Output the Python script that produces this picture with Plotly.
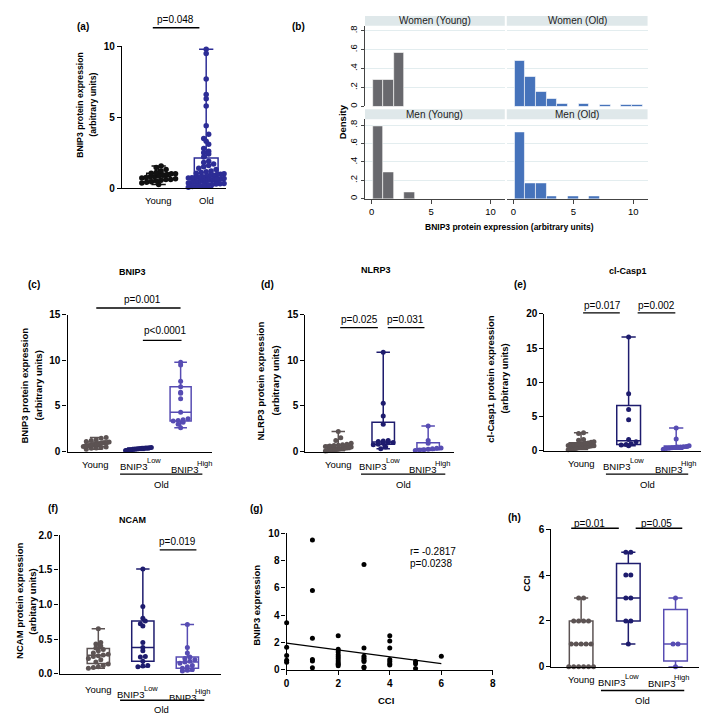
import numpy as np
import plotly.graph_objects as go

W, H = 709, 714
FONT = "Liberation Sans"

# ---------------- data ----------------
# (a) BNIP3 young vs old
a_categories = ["Young", "Old"]
a_young = [0.25, 0.35, 0.4, 0.45, 0.5, 0.55, 0.6, 0.6, 0.65, 0.7, 0.75, 0.8, 0.8, 0.85,
           0.9, 0.95, 1.0, 1.0, 1.05, 1.1, 1.2, 1.3, 1.45, 1.55]
a_old = [9.8, 9.5, 7.7, 6.6, 6.3, 5.8, 4.4, 3.8, 3.5, 3.3, 3.1, 2.8, 2.6, 2.5, 2.4, 2.2,
         1.9, 1.8, 1.7, 1.6, 1.5, 1.4, 1.3, 1.2, 1.15, 1.1, 1.05, 1.0, 0.98, 0.95, 0.9, 0.88,
         0.82, 0.8, 0.78, 0.75, 0.72, 0.7, 0.68, 0.65, 0.62, 0.6, 0.6, 0.58, 0.56, 0.55, 0.52, 0.5,
         0.48, 0.45, 0.42, 0.4, 0.38, 0.35, 0.32, 0.3, 0.28, 0.25, 0.22, 0.2, 0.15, 0.12, 0.1, 0.05]

# (b) histograms (density per bin)
hist_bin_start = 0.08
hist_bin_width = 0.89
women_young_density = [0.286, 0.286, 0.571]
women_old_density = [0.48, 0.31, 0.15, 0.085, 0.03, 0, 0.03, 0, 0.015, 0, 0.015, 0.015]
men_young_density = [0.79, 0.286, 0, 0.071]
men_old_density = [0.72, 0.165, 0.165, 0.03, 0, 0.03, 0, 0.03]
hist_titles = ["Women (Young)", "Women (Old)", "Men (Young)", "Men (Old)"]
hist_yticks = [0, 0.2, 0.4, 0.6, 0.8]
hist_yticktext = ["0", ".2", ".4", ".6", ".8"]
hist_xticks = [0, 5, 10]

# group labels for c-f, h
group_young = "Young"
group_gene = "BNIP3"
group_sups = ["Low", "High"]
group_parent = "Old"

# (c) BNIP3
c_young = [0.25, 0.35, 0.4, 0.45, 0.5, 0.55, 0.6, 0.6, 0.65, 0.7, 0.75, 0.8, 0.8, 0.85,
           0.9, 0.95, 1.0, 1.0, 1.05, 1.1, 1.2, 1.3, 1.45, 1.55]
c_low = [0.12, 0.15, 0.18, 0.2, 0.22, 0.25, 0.28, 0.3, 0.32, 0.35, 0.36, 0.38, 0.4, 0.42, 0.45]
c_high = [2.6, 3.0, 3.2, 3.35, 3.4, 3.5, 3.6, 4.3, 5.8, 6.4, 6.5, 7.1, 7.7, 9.5, 9.8]

# (d) NLRP3
d_young = [0.05, 0.08, 0.1, 0.12, 0.15, 0.2, 0.22, 0.25, 0.3, 0.32, 0.35, 0.4, 0.42, 0.45,
           0.5, 0.55, 0.6, 0.65, 0.7, 0.75, 0.8, 0.9, 1.2, 1.5, 2.2]
d_low = [0.3, 0.5, 0.75, 0.8, 0.9, 0.95, 1.0, 1.1, 1.15, 1.2, 3.0, 3.9, 5.3, 10.9]
d_high = [0.1, 0.15, 0.2, 0.25, 0.3, 0.35, 0.4, 0.9, 1.2, 2.8]

# (e) cl-Casp1
e_young = [0.1, 0.15, 0.2, 0.3, 0.4, 0.45, 0.5, 0.55, 0.6, 0.65, 0.7, 0.75, 0.8, 0.85, 0.9,
           0.95, 1.0, 1.05, 1.1, 1.2, 1.3, 1.5, 1.6, 2.5, 2.6]
e_low = [0.7, 0.8, 0.9, 1.0, 1.3, 1.6, 4.5, 6.0, 8.3, 16.6]
e_high = [0.2, 0.3, 0.35, 0.4, 0.45, 0.5, 0.5, 0.55, 0.6, 0.7, 1.7, 3.3]

# (f) NCAM
f_young = [0.08, 0.09, 0.1, 0.12, 0.14, 0.17, 0.2, 0.22, 0.25, 0.26, 0.27, 0.28, 0.3, 0.33,
           0.35, 0.37, 0.4, 0.43, 0.45, 0.65]
f_low = [0.1, 0.11, 0.12, 0.18, 0.24, 0.25, 0.33, 0.38, 0.45, 0.69, 0.72, 0.76, 0.8, 0.97, 1.51]
f_high = [0.04, 0.05, 0.06, 0.08, 0.1, 0.12, 0.15, 0.17, 0.18, 0.2, 0.22, 0.24, 0.3, 0.38, 0.71]

# (g) CCI vs BNIP3 expression
g_cci = [0, 0, 0, 0, 0,
         1, 1, 1, 1, 1, 1,
         2, 2, 2, 2, 2, 2, 2, 2, 2, 2,
         3, 3, 3, 3, 3, 3, 3, 3,
         4, 4, 4, 4, 4, 4, 4,
         5, 5, 5,
         6]
g_bnip3 = [3.45, 1.65, 1.05, 0.7, 0.55,
           9.5, 5.8, 2.3, 0.75, 0.65, 0.15,
           2.5, 1.5, 1.3, 1.1, 0.95, 0.8, 0.65, 0.5, 0.4, 0.3,
           7.7, 1.6, 1.0, 0.85, 0.7, 0.6, 0.2, 0.15,
           2.5, 2.1, 1.6, 0.75, 0.6, 0.45, 0.35,
           0.6, 0.45, 0.1,
           1.0]
g_fit_intercept = 1.95
g_fit_slope = -0.25
g_r_text = "r= -0.2817"
g_p_text = "p=0.0238"

# (h) CCI
h_young = [0, 0, 0, 0, 0, 0, 1, 1, 1, 1, 1, 2, 2, 2, 2, 3, 3]
h_low = [1, 2, 2, 3, 3, 4, 4, 5, 5]
h_high = [0, 1, 1, 3]

# ---------------- style ----------------
COL_A_YOUNG = "#111111"
COL_A_OLD = "#2d2d96"
COL_YOUNG = "#5c5353"
COL_LOW = "#1e1c6e"
COL_HIGH = "#574cb3"
HIST_GRAY = "#68686d"
HIST_BLUE = "#4673bb"
STRIP = "#dfe8ea"
GRID = "#e3edef"

fig = go.Figure()
ann = []
shp = []
axis_count = [0]


def px2x(px):
    return px / W


def px2y(py):
    return 1 - py / H


def tfont(size=10, bold=False, color="black"):
    d = dict(family=FONT, size=size, color=color)
    if bold:
        d["weight"] = "bold"
    return d


def text(x, y, s, size=10, bold=False, angle=0, xanchor="center", color="black"):
    ann.append(dict(x=px2x(x), y=px2y(y), xref="paper", yref="paper", text=s, showarrow=False,
                    font=tfont(size, bold, color), textangle=angle, xanchor=xanchor,
                    yanchor="middle", borderpad=0, borderwidth=0))


def hline(x0, x1, y, width=1.4, color="black"):
    shp.append(dict(type="line", xref="paper", yref="paper", x0=px2x(x0), x1=px2x(x1),
                    y0=px2y(y), y1=px2y(y), line=dict(color=color, width=width)))


def new_axes(x0, x1, xr, ytop, ybot, yr, xkw=None, ykw=None):
    axis_count[0] += 1
    n = axis_count[0]
    sfx = "" if n == 1 else str(n)
    xa = dict(domain=[px2x(x0), px2x(x1)], range=xr, anchor="y" + sfx, showgrid=False,
              zeroline=False, showline=True, linecolor="black", linewidth=1.3, ticks="",
              showticklabels=False, fixedrange=True)
    ya = dict(domain=[px2y(ybot), px2y(ytop)], range=yr, anchor="x" + sfx, showgrid=False,
              zeroline=False, showline=True, linecolor="black", linewidth=1.3, ticks="outside",
              ticklen=4, tickwidth=1.3, tickcolor="black", tickfont=tfont(10, True),
              fixedrange=True)
    if xkw:
        xa.update(xkw)
    if ykw:
        ya.update(ykw)
    fig.update_layout(**{"xaxis" + sfx: xa, "yaxis" + sfx: ya})
    ppx = (x1 - x0) / (xr[1] - xr[0])
    ppy = (ybot - ytop) / (yr[1] - yr[0])
    return "x" + sfx, "y" + sfx, ppx, ppy


def spread(vals, ppx, ppy, d, maxhalf):
    v = np.asarray(vals, float)
    bins = np.floor(v * ppy / d).astype(int)
    off = np.zeros(len(v))
    for b in np.unique(bins):
        idx = np.where(bins == b)[0]
        idx = idx[np.argsort(v[idx], kind="stable")]
        k = len(idx)
        step = d
        if k > 1 and (k - 1) * step / 2 > maxhalf:
            step = 2 * maxhalf / (k - 1)
        for j, i in enumerate(idx):
            off[i] = (j - (k - 1) / 2) * step
    return off / ppx


def box_group(xa, ya, pos, vals, color, ppx, ppy, msize=5, maxhalf=14, d=5, bw=0.5):
    v = np.asarray(vals, float)
    q1, med, q3 = np.percentile(v, [25, 50, 75], method="weibull")
    fig.add_trace(go.Box(x=[pos], q1=[q1], median=[med], q3=[q3], lowerfence=[v.min()],
                         upperfence=[v.max()], width=bw, whiskerwidth=0.6,
                         fillcolor="rgba(0,0,0,0)", line=dict(color=color, width=1.5),
                         boxpoints=False, xaxis=xa, yaxis=ya, showlegend=False,
                         hoverinfo="skip"))
    off = spread(v, ppx, ppy, d, maxhalf)
    fig.add_trace(go.Scatter(x=pos + off, y=v, mode="markers",
                             marker=dict(size=msize, color=color, line=dict(width=0)),
                             xaxis=xa, yaxis=ya, cliponaxis=False, showlegend=False,
                             hoverinfo="skip"))


def two_line_ytitle(x1, x2, yc, line1, line2, size):
    text(x1, yc, line1, size, True, angle=-90)
    text(x2, yc, line2, size, True, angle=-90)


# ---------------- panel (a) ----------------
xa, ya, ppx, ppy = new_axes(112, 217, [0.23, 2.42], 33, 177, [0, 10],
                            ykw=dict(tickvals=[0, 5, 10]))
box_group(xa, ya, 1, a_young, COL_A_YOUNG, ppx, ppy, msize=5.5, maxhalf=17, d=5)
box_group(xa, ya, 2, a_old, COL_A_OLD, ppx, ppy, msize=5.5, maxhalf=18, d=5)
text(149, 190, a_categories[0], 9.5)
text(197, 190, a_categories[1], 9.5)
text(73, 13, "(a)", 10, True)
two_line_ytitle(70, 83, 92, "BNIP3 protein expression", "(arbitrary units)", 8.7)
hline(143, 190, 14)
text(166, 6, "p=0.048", 10)

# ---------------- panel (b) ----------------
hist_specs = [
    (357, 498, 12, 94, 0.852, women_young_density, HIST_GRAY, False, True),
    (500, 642, 12, 94, 0.852, women_old_density, HIST_BLUE, False, False),
    (357, 498, 107, 188, 0.864, men_young_density, HIST_GRAY, True, True),
    (500, 642, 107, 188, 0.864, men_old_density, HIST_BLUE, True, False),
]
for (x0, x1, yt, yb, ytopval, dens, col, showx, showy), title in zip(hist_specs, hist_titles):
    xkw = dict(showline=showx, linecolor="#444", linewidth=1,
               ticks="outside" if showx else "", ticklen=4, tickwidth=1, tickcolor="#444",
               tickvals=hist_xticks, showticklabels=showx, tickfont=tfont(9.5))
    ykw = dict(showline=showy, linecolor="#444", linewidth=1,
               ticks="outside" if showy else "", ticklen=3, tickwidth=1, tickcolor="#444",
               tickvals=hist_yticks, ticktext=hist_yticktext, showticklabels=showy,
               tickangle=-90, tickfont=tfont(9.5), showgrid=True, gridcolor=GRID, gridwidth=1)
    xa, ya, ppx, ppy = new_axes(x0, x1, [-0.55, 11.2], yt, yb, [0, ytopval], xkw, ykw)
    centers = hist_bin_start + (np.arange(len(dens)) + 0.5) * hist_bin_width
    fig.add_trace(go.Bar(x=centers, y=dens, width=hist_bin_width,
                         marker=dict(color=col, line=dict(color="white", width=0.6)),
                         xaxis=xa, yaxis=ya, showlegend=False, hoverinfo="skip"))
    shp.append(dict(type="rect", xref="paper", yref="paper", x0=px2x(x0), x1=px2x(x1),
                    y0=px2y(yt), y1=px2y(yt - 10), fillcolor=STRIP, line=dict(width=0)))
    text((x0 + x1) / 2, yt - 5, title, 10, color="#222")
text(290, 13, "(b)", 10, True)
text(334, 110, "Density", 9.5, True, angle=-90)
text(503, 217, "BNIP3 protein expression (arbitrary units)", 8.5, True)


# ---------------- helper for three-group panels ----------------
def group_labels(young_xy, low_xy, high_xy):
    text(young_xy[0], young_xy[1], group_young, 9.5)
    for (cx, cy), sup in zip([low_xy, high_xy], group_sups):
        text(cx, cy, group_gene, 9.5)
        text(cx + 13, cy - 6, sup, 7.5, xanchor="left")


def three_group(x0, x1, xr, ytop, ybot, yr, yticks, data, label_pos, underline, old_pos,
                ytitle_x, ytitle_yc, ytitle_lines, yticktext=None, maxhalf=13, tsize=9.5):
    ykw = dict(tickvals=yticks)
    if yticktext:
        ykw["ticktext"] = yticktext
    xa, ya, ppx, ppy = new_axes(x0, x1, xr, ytop, ybot, yr, ykw=ykw)
    for pos, vals, col in zip([1, 2, 3], data, [COL_YOUNG, COL_LOW, COL_HIGH]):
        box_group(xa, ya, pos, vals, col, ppx, ppy, msize=5, maxhalf=maxhalf, d=5)
    group_labels(*label_pos)
    hline(underline[0], underline[1], underline[2])
    text(old_pos[0], old_pos[1], group_parent, 9.5)
    if len(ytitle_lines) == 2:
        two_line_ytitle(ytitle_x[0], ytitle_x[1], ytitle_yc, ytitle_lines[0], ytitle_lines[1],
                        tsize)
    else:
        text(ytitle_x[0], ytitle_yc, ytitle_lines[0], tsize, True, angle=-90)
    return xa, ya


# (c)
three_group(57, 203, [0.32, 3.75], 306, 445, [0, 15], [0, 5, 10, 15],
            [c_young, c_low, c_high], [(85, 458), (124, 460), (175, 463)],
            (110, 193, 468), (152, 479), (14, 28), 378,
            ["BNIP3 protein expression", "(arbitrary units)"])
text(123, 262, "BNIP3", 9, True)
text(23, 275, "(c)", 10, True)
hline(86, 171, 299)
text(133, 290, "p=0.001", 10)
hline(133, 172, 332)
text(155, 322, "p<0.0001", 10)

# (d)
three_group(297, 447, [0.27, 3.58], 306, 445, [0, 15], [0, 5, 10, 15],
            [d_young, d_low, d_high], [(330, 458), (365, 460), (415, 463)],
            (353, 438, 468), (396, 479), (252, 267), 373,
            ["NLRP3 protein expression", "(arbitrary units)"])
text(368, 260, "NLRP3", 9, True)
text(259, 275, "(d)", 10, True)
hline(332, 370, 319)
text(351, 311, "p=0.025", 10)
hline(380, 417, 319)
text(398, 311, "p=0.031", 10)

# (e)
three_group(538, 703, [0.23, 3.67], 305, 444, [0, 20], [0, 5, 10, 15, 20],
            [e_young, e_low, e_high], [(575, 457), (611, 460), (663, 463)],
            (600, 683, 468), (642, 479), (484, 498), 371,
            ["cl-Casp1 protein expression", "(arbitrary units)"])
text(622, 261, "cl-Casp1", 9, True)
text(513, 275, "(e)", 10, True)
hline(577, 614, 304)
text(597, 296, "p=0.017", 10)
hline(632, 670, 304)
text(651, 296, "p=0.002", 10)

# (f)
three_group(49, 212, [0.13, 3.76], 530, 671, [0, 2], [0, 0.5, 1.0, 1.5, 2.0],
            [f_young, f_low, f_high], [(88, 687), (121, 692), (173, 695)],
            (110, 195, 698), (152, 707), (9, 22), 597,
            ["NCAM protein expression", "(arbitary units)"],
            yticktext=["0.0", "0.5", "1.0", "1.5", "2.0"])
text(123, 515, "NCAM", 9, True)
text(42, 503, "(f)", 10, True)
hline(150, 187, 545)
text(168, 537, "p=0.019", 10)

# ---------------- panel (g) ----------------
xa, ya, ppx, ppy = new_axes(
    278, 486, [0, 8], 528, 667, [0, 10],
    xkw=dict(ticks="outside", ticklen=4, tickwidth=1.3, tickcolor="black",
             tickvals=[0, 2, 4, 6, 8], showticklabels=True, tickfont=tfont(10, True)),
    ykw=dict(tickvals=[0, 2, 4, 6, 8, 10]))
fit_x = np.array([min(g_cci), max(g_cci)], float)
fig.add_trace(go.Scatter(x=fit_x, y=g_fit_intercept + g_fit_slope * fit_x, mode="lines",
                         line=dict(color="black", width=1.3), xaxis=xa, yaxis=ya,
                         showlegend=False, hoverinfo="skip", cliponaxis=False))
fig.add_trace(go.Scatter(x=g_cci, y=g_bnip3, mode="markers",
                         marker=dict(size=5, color="black"), xaxis=xa, yaxis=ya,
                         cliponaxis=False, showlegend=False, hoverinfo="skip"))
text(248, 503, "(g)", 10, True)
text(248, 601, "BNIP3 expression", 9.5, True, angle=-90)
text(378, 698, "CCI", 9.5, True)
text(402, 547, g_r_text, 10, xanchor="left")
text(402, 559, g_p_text, 10, xanchor="left")

# ---------------- panel (h) ----------------
three_group(545, 694, [0.37, 3.5], 524, 664, [0, 6], [0, 2, 4, 6],
            [h_young, h_low, h_high], [(575, 677), (606, 680), (656, 681)],
            (595, 679, 688), (637, 698), (520,), 580, ["CCI"], maxhalf=14)
text(508, 512, "(h)", 10, True)
hline(565, 613, 523)
text(583, 518, "p=0.01", 10)
hline(630, 677, 523)
text(651, 518, "p=0.05", 10)

fig.update_layout(width=W, height=H, margin=dict(l=0, r=0, t=0, b=0),
                  paper_bgcolor="white", plot_bgcolor="white", showlegend=False,
                  annotations=ann, shapes=shp, bargap=0,
                  font=dict(family=FONT, color="black"))
fig.write_html("out.html")
